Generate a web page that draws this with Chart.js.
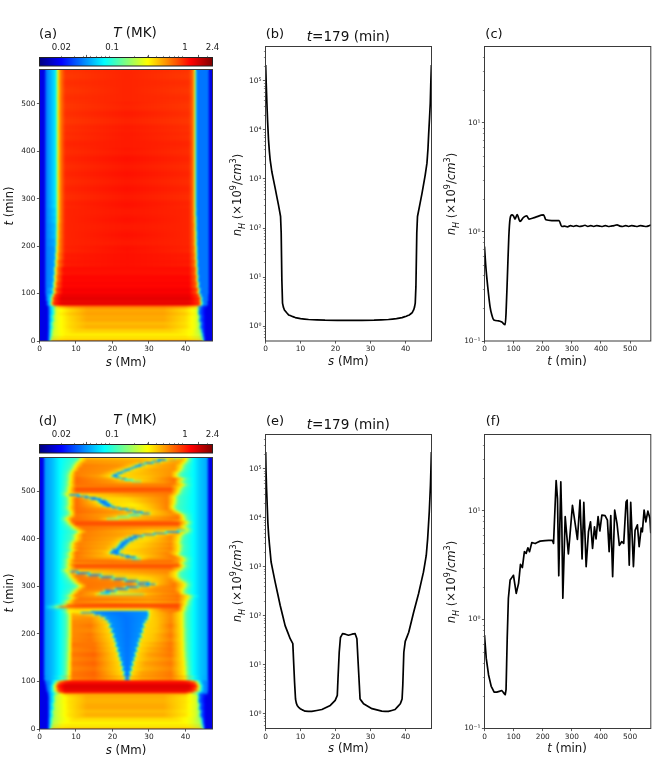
<!DOCTYPE html>
<html><head><meta charset="utf-8">
<style>
html,body{margin:0;padding:0;background:#fff;width:664px;height:775px;overflow:hidden}
body{filter:blur(.3px)}
canvas{position:absolute;display:block}
.t{position:absolute;font-family:"DejaVu Sans",sans-serif;color:#111;white-space:nowrap;line-height:1;transform:translate(-50%,-50%)}
.t i{font-style:italic}
.t sub,.t sup{font-size:.7em;line-height:0}
</style>
<script src="https://cdn.jsdelivr.net/npm/chart.js@4"></script>
</head><body>
<script>
// ---------- axis ticks ----------
const sTicksHeat=[0,10,20,30,40];
const tTicksHeat=[0,100,200,300,400,500];
const sTicksLine=[0,10,20,30,40];
const tTicksLine=[0,100,200,300,400,500];
const densTicksS=[1,10,100,1000,10000,100000];
const densTicksT=[0.1,1,10];
const colorTicks=[0.02,0.1,1,2.4];
const supers={'-1':'10⁻¹','0':'10⁰','1':'10¹','2':'10²','3':'10³','4':'10⁴','5':'10⁵'};

// ---------- panel (b) ----------
const sB=[0.05,0.2,0.4,0.6,0.86,1.1,1.33,1.8,2.76,3.7,4.3,4.48,4.67,4.86,5.1,5.4,6,6.6,7.5,8.5,10,12.3,17,24,31,35.1,37.4,39,40.2,41.1,41.9,42.3,42.55,42.76,42.95,43.2,43.4,44.7,45.6,46.1,46.4,46.6,46.85,47.05,47.2,47.37];
const nB=[210000,90000,35000,15000,6300,3700,2450,1420,650,296,172,79,8.8,2.95,2.45,2.15,1.9,1.7,1.6,1.5,1.43,1.37,1.33,1.31,1.33,1.37,1.43,1.5,1.6,1.7,1.9,2.15,2.45,2.95,6.4,79,172,513,1200,2100,4200,8500,18000,35000,90000,210000];
// ---------- panel (c) ----------
const tC=[0,4.6,11,19,25,32,48,59.5,71,74,79,83.5,88,94,99.5,105,112,122,134,145,153,174,202.5,211,231,256,265,275,285,295,305,315,325,335,345,355,365,375,385,395,405,415,425,435,445,455,465,475,485,495,505,515,525,535,545,555,565,571];
const nC=[0.734,0.48,0.316,0.207,0.174,0.156,0.153,0.149,0.141,0.18,0.418,0.906,1.33,1.43,1.40,1.31,1.44,1.25,1.36,1.40,1.31,1.36,1.43,1.29,1.27,1.27,1.12,1.13,1.11,1.14,1.12,1.14,1.12,1.13,1.15,1.12,1.14,1.12,1.14,1.13,1.12,1.14,1.12,1.13,1.14,1.16,1.13,1.12,1.14,1.12,1.14,1.13,1.12,1.14,1.13,1.12,1.14,1.16];
// ---------- panel (e) ----------
const sE=[0.05,0.15,0.3,0.5,0.67,0.9,1.14,1.6,2.76,4.2,5.6,7.05,7.8,8,8.3,8.57,8.8,9.05,9.4,9.9,10.5,11.3,13.2,16.1,18.5,19.9,20.5,20.7,21.05,21.4,22,22.8,23.7,24.7,25.6,26.1,26.4,26.8,27,28,30.4,33.2,35.1,37,38.5,39,39.2,39.5,39.9,40.9,42.3,43.7,45.1,45.9,46.3,46.76,47.1,47.24,47.37];
const nE=[220000,90000,40000,17000,8000,4400,2800,1250,486,162,63,34,27,13,4.4,2,1.65,1.48,1.37,1.27,1.2,1.13,1.115,1.22,1.48,1.87,2.37,5.2,18,36,43,42,40,42,43,34,13,3.8,2,1.6,1.27,1.13,1.115,1.22,1.6,2,3.8,18,30,46,118,282,776,1700,3700,13000,46000,100000,220000];
// ---------- panel (f) ----------
const tF=[0,6,14,23,33,42,59.5,71,74,78,82,88,99.5,109,117,123.5,130,137,143,149,154.5,162.5,174,191,208,233,237,246,250.6,255,262,265.4,269,277,288,302,313.5,319,328,335,341,349,357,364,371,377.6,383,390,396,403,414,422,428,433.6,440,447,455,463,471.4,478,486,489.7,497,502,511.4,517,525,531,538,542,548,554,561,568,571];
const nF=[0.72,0.44,0.31,0.244,0.216,0.216,0.223,0.204,0.227,0.675,1.57,2.31,2.55,1.74,2.15,3.21,3.0,4.2,4.05,4.56,4.2,5.1,4.99,5.25,5.3,5.35,5.0,18.9,12.9,2.53,18.4,7.9,1.57,8.8,4.0,11.2,6.9,5.45,12.5,3.6,11.9,3.06,6.4,7.9,4.5,7.1,5.5,8.8,6.5,9.1,9,8.2,4.2,9,2.48,10.1,7.6,4.8,5.2,5,12,12.5,3.16,11.9,3.06,6.6,7.4,4.66,6.9,6.4,10.1,7.9,9.9,8.5,6.2];

// ---------- panel (a) heat map: [t start, "s:jet% ..."] ----------
const heatA=[
[0,'0:10 2:10 2.5:24 2.9:50 3.4:74 8:78 40:78 44.4:74 44.9:50 45.2:24 45.5:10 47.4:10'],
[2.5,'0:10 2.2:10 2.6:24 3:45 3.6:58 6:63 41:63 44:58 44.7:45 45:24 45.5:10 47.4:10'],
[8,'0:10 2.2:10 2.6:24 3.1:42 3.8:58 7:64 40:64 43.8:58 44.5:45 44.8:24 45.5:10 47.4:10'],
[14,'0:10 2.2:10 2.6:24 3.1:42 3.8:58 5.5:62 9:65 38:65 42:62 44:54 44.5:40 44.7:24 45.5:10 47.4:10'],
[20,'0:10 2.3:10 2.6:24 3.2:42 3.9:58 5.5:62 10:67 36:67 42:62 44:54 44.3:40 44.5:24 45.5:10 47.4:10'],
[26,'0:10 2.3:10 2.6:24 3.3:40 3.9:56 5:61 8:66 13:70 34:70 40:66 43:60 43.9:50 44.2:24 45.6:10 47.4:10'],
[40,'0:10 2.3:10 2.6:24 3.6:40 4.1:56 5:61 8:66 13:71 34:71 40:66 43:60 43.7:50 44:24 45.6:10 47.4:10'],
[55,'0:10 2.3:10 2.6:24 3.8:40 4.3:56 5:61 8:66 13:71 34:71 40:66 43:60 43.4:50 43.7:24 45.6:10 47.4:10'],
[70,'0:10 2.3:10 2.6:24 3.9:40 4.4:56 5.2:66 8:72 13:74 34:74 40:72 43:64 43.4:50 43.7:24 45.6:10 47.4:10'],
[73,'0:10 2:10 2.3:24 3:36 3.5:60 4.2:80 7:84 40:84 43.5:80 44:60 44.4:36 44.8:24 45.8:24 46:10 47.4:10'],
[75,'0:10 1.8:10 2.2:24 2.9:36 3.2:60 3.7:82 6:90 41:90 43.9:82 44.3:60 44.7:36 45.1:24 46:24 46.2:10 47.4:10'],
[85,'0:10 1.6:10 1.9:24 3:36 3.4:60 3.9:82 6:90 41:90 43.9:82 44.2:60 44.5:36 44.9:24 46.2:24 46.4:10 47.4:10'],
[92,'0:10 1.6:10 1.8:24 3.2:36 3.7:60 4.2:82 6:89 41:89 43.5:82 43.9:60 44.2:36 44.5:24 46.2:24 46.4:10 47.4:10'],
[100,'0:10 1.5:10 1.7:24 3.5:30 4:60 4.7:80 6.5:88 41:88 43.1:80 43.6:60 44:30 44.2:24 46.3:24 46.5:10 47.4:10'],
[112,'0:10 1.5:10 1.7:24 3.6:28 4.1:60 4.8:78 6.5:87 41:87 42.9:78 43.4:60 43.8:28 44:24 46.3:24 46.5:10 47.4:10'],
[125,'0:10 1.5:10 1.7:24 3.8:28 4.2:60 4.9:76 6.5:87 41:87 42.8:78 43.2:60 43.6:28 43.8:24 46.3:24 46.5:10 47.4:10'],
[140,'0:10 1.5:10 1.7:24 3.9:28 4.3:60 5:76 6.5:86 41:86 42.7:78 43.1:60 43.5:28 43.7:24 46.3:24 46.5:10 47.4:10'],
[155,'0:10 1.5:10 1.7:24 4.1:28 4.5:60 5.2:76 7:85 24:86 41:85 42.6:76 43:60 43.4:28 43.6:24 46.3:24 46.5:10 47.4:10'],
[170,'0:10 1.5:10 1.7:24 4.2:28 4.6:60 5.3:74 7:85 24:86 41:85 42.5:76 42.9:60 43.3:28 43.5:24 46.3:24 46.5:10 47.4:10'],
[185,'0:10 1.5:10 1.7:24 4.3:28 4.7:60 5.4:74 7:84 24:86 41:84 42.4:76 42.9:60 43.3:28 43.5:24 46.3:24 46.5:10 47.4:10'],
[200,'0:10 1.5:10 1.7:24 4.4:30 4.8:60 5.4:74 7:84 24:85 41:84 42.3:76 42.8:60 43.2:28 43.4:24 46.3:24 46.5:10 47.4:10'],
[216,'0:10 1.5:10 1.7:24 4.4:32 4.9:62 5.5:74 7:84 24:86 41:84 42.3:76 42.8:60 43.2:28 43.4:24 46.3:24 46.5:10 47.4:10'],
[232,'0:10 1.5:10 1.7:24 4.5:32 4.9:62 5.5:74 7:84 24:85 41:84 42.3:76 42.7:60 43.1:28 43.3:24 46.3:24 46.5:10 47.4:10'],
[248,'0:10 1.5:10 1.7:24 4.5:34 5:62 5.6:74 7:84 24:86 41:84 42.2:76 42.7:60 43.1:28 43.3:24 46.3:24 46.5:10 47.4:10'],
[264,'0:10 1.5:10 1.7:24 4.5:34 5:62 5.6:74 7:84 24:85 41:84 42.2:76 42.6:58 43:28 43.2:24 46.3:24 46.5:10 47.4:10'],
[280,'0:10 1.5:10 1.7:24 4.5:36 5:62 5.6:74 7:84 24:86 41:84 42.2:76 42.6:58 43:28 43.2:24 46.3:24 46.5:10 47.4:10'],
[296,'0:10 1.5:10 1.7:24 4.5:36 5:60 5.6:74 7:83 24:85 41:83 42.2:76 42.6:58 43:28 43.2:24 46.3:24 46.5:10 47.4:10'],
[312,'0:10 1.5:10 1.7:24 4.5:36 5:62 5.6:74 7:84 24:86 41:84 42.2:76 42.6:58 43:28 43.2:24 46.3:24 46.5:10 47.4:10'],
[328,'0:10 1.5:10 1.7:24 4.5:36 5:60 5.6:74 7:83 24:85 41:83 42.2:76 42.6:58 43:28 43.2:24 46.3:24 46.5:10 47.4:10'],
[344,'0:10 1.5:10 1.7:24 4.5:36 5:62 5.6:74 7:84 24:86 41:84 42.2:76 42.6:58 43:28 43.2:24 46.3:24 46.5:10 47.4:10'],
[360,'0:10 1.5:10 1.7:24 4.5:36 5:60 5.6:74 7:83 24:85 41:83 42.2:76 42.6:58 43:28 43.2:24 46.3:24 46.5:10 47.4:10'],
[376,'0:10 1.5:10 1.7:24 4.5:36 5:62 5.6:74 7:84 24:86 41:84 42.2:76 42.6:58 43:28 43.2:24 46.3:24 46.5:10 47.4:10'],
[392,'0:10 1.5:10 1.7:24 4.5:36 5:60 5.6:74 7:83 24:85 41:83 42.2:76 42.6:58 43:28 43.2:24 46.3:24 46.5:10 47.4:10'],
[408,'0:10 1.5:10 1.7:24 4.5:36 5:62 5.6:74 7:84 24:85 41:84 42.2:76 42.6:58 43:28 43.2:24 46.3:24 46.5:10 47.4:10'],
[424,'0:10 1.5:10 1.7:24 4.5:36 5:60 5.6:74 7:83 24:85 41:83 42.2:76 42.6:58 43:28 43.2:24 46.3:24 46.5:10 47.4:10'],
[440,'0:10 1.5:10 1.7:24 4.5:36 5:62 5.6:74 7:83 24:85 41:83 42.2:76 42.6:58 43:28 43.2:24 46.3:24 46.5:10 47.4:10'],
[456,'0:10 1.5:10 1.7:24 4.5:36 5:60 5.6:74 7:82 24:84 41:82 42.2:76 42.6:58 43:28 43.2:24 46.3:24 46.5:10 47.4:10'],
[472,'0:10 1.5:10 1.7:24 4.5:36 5:62 5.6:74 7:83 24:85 41:83 42.2:76 42.6:58 43:28 43.2:24 46.3:24 46.5:10 47.4:10'],
[488,'0:10 1.5:10 1.7:24 4.5:36 5:60 5.6:74 7:82 24:84 41:82 42.2:76 42.6:58 43:28 43.2:24 46.3:24 46.5:10 47.4:10'],
[504,'0:10 1.5:10 1.7:24 4.5:36 5:62 5.6:74 7:83 24:84 41:83 42.2:76 42.6:58 43:28 43.2:24 46.3:24 46.5:10 47.4:10'],
[520,'0:10 1.5:10 1.7:24 4.5:36 5:60 5.6:74 7:82 24:84 41:82 42.2:76 42.6:58 43:28 43.2:24 46.3:24 46.5:10 47.4:10'],
[536,'0:10 1.5:10 1.7:24 4.5:36 5:62 5.6:74 7:83 24:84 41:83 42.2:76 42.6:58 43:28 43.2:24 46.3:24 46.5:10 47.4:10'],
[552,'0:10 1.5:10 1.7:24 4.5:36 5:60 5.6:74 7:82 24:84 41:82 42.2:76 42.6:58 43:28 43.2:24 46.3:24 46.5:10 47.4:10']
];

// ---------- panel (d) heat map, lower part: [t start, "s:jet% ..."] ----------
const heatDLow=[
[0,'0:10 2:10 2.5:24 2.9:50 3.4:72 8:76 40:76 44.4:72 44.9:50 45.2:24 45.5:10 47.4:10'],
[2.5,'0:10 2.2:10 2.6:24 3:42 3.6:56 6:62 41:62 44:56 44.7:42 45:24 45.5:10 47.4:10'],
[8,'0:10 2.2:10 2.6:24 3.1:40 3.8:56 7:63 40:63 43.8:56 44.5:42 44.8:24 45.5:10 47.4:10'],
[14,'0:10 2.2:10 2.6:24 3.1:40 3.8:54 5.5:59 9:65 38:65 42:60 44:52 44.5:40 44.7:24 45.5:10 47.4:10'],
[20,'0:10 2.3:10 2.6:24 3.2:40 3.9:54 5.5:59 10:67 36:67 42:60 44:52 44.3:40 44.5:24 45.5:10 47.4:10'],
[26,'0:10 2.3:10 2.6:24 3.3:38 3.9:54 5:58 8:65 13:70 34:70 40:65 43:58 43.9:48 44.2:24 45.6:10 47.4:10'],
[40,'0:10 2.3:10 2.6:24 3.6:38 4.1:54 5:58 8:65 13:71 34:71 40:65 43:58 43.7:48 44:24 45.6:10 47.4:10'],
[55,'0:10 2.3:10 2.6:24 3.8:38 4.3:54 5:58 8:65 13:70 34:70 40:65 43:58 43.4:48 43.7:24 45.6:10 47.4:10'],
[70,'0:10 2.2:10 2.5:24 3.8:38 4.3:54 5.2:60 8:66 13:70 34:70 40:66 43:60 43.4:48 43.7:24 45.6:10 47.4:10'],
[73,'0:10 2.2:10 2.5:24 3.2:30 4:36 5:48 5.8:62 7:76 40:76 41.3:62 42.3:48 43.5:36 44:24 46:24 46.2:10 47.4:10'],
[76,'0:10 2:10 2.3:22 3:30 3.5:38 4.2:50 4.8:64 5.6:80 7:86 40:86 41.8:80 42.6:64 43.3:50 44:38 44.5:28 46:24 46.2:10 47.4:10'],
[80,'0:10 1.8:10 2:22 3:30 3.4:38 3.9:50 4.4:64 5.2:82 7:90 41:90 42.7:82 43.5:64 44:50 44.5:38 45:28 46.2:24 46.4:10 47.4:10'],
[86,'0:10 1.6:10 1.9:22 3:30 3.4:38 3.8:50 4.3:64 5:84 7:91 41:91 42.9:84 43.7:64 44.1:50 44.5:38 45:28 46.2:24 46.4:10 47.4:10'],
[92,'0:10 1.5:10 1.7:22 3:28 3.7:36 4:48 4.5:64 5.2:82 7:89 41:89 42.7:82 43.4:64 43.8:48 44.3:36 44.8:28 46.2:24 46.4:10 47.4:10'],
[97,'0:10 1.4:10 1.6:22 3:28 4:36 4.6:48 5:64 5.8:80 8:86 40:86 42.3:80 43:64 43.5:48 44:36 44.6:28 46.2:24 46.4:10 47.4:10'],
[101,'0:10 1.3:10 1.5:24 3:30 4:37 5.2:46 6:62 7:76 9:81 39:81 41:76 42:62 42.7:46 43.6:37 44.4:30 46.2:26 46.4:10 47.4:10']
];

// ---------- panel (d) heat map, upper part: [t start, left edge s, right edge s, interior stops; *centre/halfwidth/level = cold streak] ----------
const heatDUp=[
[104,8,40,'9:74 15:76 *24/.3 28:70 36:74'],
[112,8,39.9,'9:76 15:78 *24/.6 28:72 36:76'],
[122,8.1,39.8,'9:74 15:76 *24/1 29:70 36:74'],
[132,8.1,39.7,'9:76 15:78 *24/1.3 29:72 36:76'],
[142,8.2,39.6,'9:74 15:76 *24/1.7 30:70 36:74'],
[152,8.2,39.5,'9:76 15:78 *24/2 30:72 36:76'],
[162,8.3,39.4,'9:74 15:76 *24/2.4 30:70 36:76'],
[172,8.3,39.4,'9:76 15:76 *24/2.8 31:70 36:76'],
[182,8.3,39.3,'9:74 14:76 *24/3.1 31:68 36:74'],
[192,8.4,39.3,'9:74 14:76 *24.05/3.55 31:68 36:76'],
[202,8.4,39.3,'9:74 14:74 *24/4 32:68 36:74'],
[212,8.4,39.2,'9:74 14:76 *23.9/4.4 32:68 36:76'],
[222,8.4,39.2,'9:74 14:74 *23.9/4.9 32:68 36:74'],
[230,8.4,39.2,'9:72 14:74 *23.8/5.6 32:68 36:74'],
[236,8.4,39.2,'9:72 12:72 *23.3/6.3 33:70 36:74'],
[240,8.3,39.2,'9:70 11:68 *22.5/7.2 33:70 36:74'],
[243,8,39.2,'9:66 *20.5/8.9 33:70 36:76'],
[246,7.7,39.3,'9:62 *22/7.6 33:72 37:76'],
[248,8.2,39.5,'10:66 20:60 29:58 31:66 34:74 38:76'],
[251,7.8,39.6,'10:66 20:66 30:66 34:74 38:76'],
[254,4.7,39.6,'6:78 10:81 38:81'],
[258,6.8,40,'8:78 12:80 38:80'],
[262,8,40.2,'10:74 20:78 30:76 38:78'],
[266,7.4,40,'9.5:76 20:68 30:68 38:72'],
[270,8.3,40.4,'10:76 20:78 30:76 38:78'],
[274,9,40.8,'11:76 22:72 30:70 38:74'],
[278,8.2,41,'10:74 18:72 28:74 38:78'],
[281,8.7,40,'10:76 15:70 16:52 28:50 29.5:66 34:72 38:74'],
[284,9.2,39.2,'11:76 15:70 *18/1/30 21:64 30:72 38:76'],
[288,9.6,39,'11:74 17:74 *19.5/1.3 23:68 30:72 37:76'],
[292,10.2,39.4,'12:76 19:74 *22.5/1.4 26:68 32:74 37:74'],
[296,11,39.7,'13:76 22:74 *25.4/1.4 29:68 34:74 37:76'],
[300,11,39.9,'13:76 25:74 *28.5/1.3 31:68 33:72 37:76'],
[303,10.6,40,'13:76 27:74 *30.5/1 33:70 37:76'],
[306,10,39.7,'12:76 25:74 *28.5/1.4 33:70 37:76'],
[310,9.5,39,'11:76 22:74 *25.2/1.5 32:68 36:74'],
[314,9,38.2,'11:76 19:74 *22/1.5 30:66 36:74'],
[318,8.5,37.6,'10:76 16:74 *18.5/1.5 28:66 35:72'],
[322,8.3,37.5,'10:76 12:74 *15.2/1.5 26:68 35:72'],
[326,7.9,37.6,'9:74 *12/1.5 24:70 35:74'],
[330,7.3,37.8,'*9/1.4 20:72 35:74'],
[333,7.2,38.5,'9:68 20:70 36:74'],
[336,8,39,'10:78 36:78'],
[340,8,39.5,'10:80 30:80 38:80'],
[344,7.6,39.2,'9:78 20:78 38:78'],
[348,8.2,38.8,'10:72 20:74 38:74'],
[352,7.8,39.6,'9.5:78 36:78'],
[356,8,39.6,'10:74 20:72 *26.5/.8/44 30:72 38:74'],
[360,8.6,39,'10:76 20:68 *25/1.2 28:66 37:76'],
[363,8.4,38.2,'10:76 20:66 *23.5/1 27:66 36:76'],
[366,8.2,37.8,'10:74 18:70 *21.8/.9 26:66 36:74'],
[369,8.4,38,'10:78 17:72 *20.5/1 25:66 35:76'],
[372,8.8,38.2,'10:74 17:68 *20.7/.9 24:66 36:72'],
[375,9.2,38.4,'11:76 18:70 *21/.8 25:68 36:74'],
[379,8.6,38.2,'10:76 18:72 *22/.7 26:66 36:76'],
[383,9,38.6,'11:74 18:70 *22.5/.7 27:66 36:72'],
[387,8.8,38.2,'10:76 19:72 *23/.8 28:68 36:76'],
[391,9.2,38,'11:74 19:70 *23.5/.9 28:66 36:72'],
[395,9.8,38.4,'12:76 20:72 *24.5/1 29:66 36:74'],
[399,10,38.3,'12:74 21:70 *25.6/1 30:66 36:74'],
[403,9.8,38.6,'12:76 23:72 *27/1.2 31:66 36:74'],
[407,10,39,'12:74 26:70 *30/1.4 34:66 37:72'],
[410,10.4,39.4,'12:76 29:70 *33/1.5 36:66 38:72'],
[413,10.8,40,'13:74 32:68 *36.5/1.6 39:66'],
[416,10.6,40.6,'13:76 30:66 *39/1/36'],
[419,9.7,40.2,'12:76 30:72 38:72'],
[422,9.2,39.8,'11:76 38:72'],
[426,8.8,39.4,'10:78 38:78'],
[430,8.4,40.3,'10:80 38:80'],
[434,8,40.5,'9:80 38:80'],
[437,7.6,39.6,'9:76 20:72 36:72'],
[440,7.3,39.6,'9:78 16:74 *20/1/50 30:72 38:78'],
[444,7.8,39.4,'10:76 19:72 *23/1.2/44 28:70 38:76'],
[448,8.6,39.2,'10:76 22:70 *26/1.2/36 31:68 38:74'],
[452,8.8,38.6,'10:76 25:70 *29/1 32:68 37:74'],
[455,8.6,38,'10:78 23:72 *27/1 31:68 36:74'],
[458,8.4,37.2,'10:76 21:72 *25/1 30:66 36:74'],
[461,8.2,36.8,'10:78 19:72 *23/1 29:66 35:76'],
[464,8,36.6,'10:76 17:70 *21/.9 28:66 35:74'],
[467,8.1,36.5,'10:78 15:72 *19.4/.9 27:64 35:76'],
[470,8.3,36.8,'10:76 14:72 *18.5/.9 26:64 35:74'],
[473,8.4,37,'10:78 13:72 *18/1 25:64 35:76'],
[476,8.3,37,'10:76 13:72 *17.5/1 25:66 35:74'],
[479,8.2,37,'10:78 12:74 *17/1 24:66 35:76'],
[482,8.4,37.2,'10:76 12:74 *15.5/1.2 24:66 35:74'],
[485,8.2,37,'10:78 *14/1.4 24:68 35:76'],
[488,8,37,'*11.8/1.3 24:70 35:74'],
[491,7.7,37.5,'*9.5/1.2 24:72 35:76'],
[494,7.2,38,'9:66 24:72 36:76'],
[497,8,38,'10:78 36:76'],
[500,8,38.3,'10:80 36:80'],
[504,8.2,38.6,'10:80 36:80'],
[508,8,39,'10:72 36:72'],
[512,8.5,39.6,'10:78 36:78'],
[516,8.2,39,'10:76 22:70 34:72 37:76'],
[519,8.3,38.2,'10:78 20:74 *26.6/.8/46 33:72 37:76'],
[522,8.5,39,'10:76 19:72 *24.5/.8/36 31:70 37:76'],
[525,8.4,39.4,'10:78 18:72 *23/.6 30:70 37:78'],
[528,8.5,38.4,'10:76 17:72 *21.5/.5 29:68 36:74'],
[531,8.4,37.6,'10:76 16:72 *20.5/.5 29:68 36:74'],
[534,8.5,37.4,'10:74 16:72 *21/.5 29:70 36:72'],
[537,8.7,37.8,'10:76 17:74 *22/.5 30:70 36:74'],
[540,8.8,38.3,'10:74 18:72 *23/.5 31:70 36:72'],
[543,9.2,38.6,'11:76 19:74 *24/.5 31:72 37:74'],
[546,9.4,38.8,'11:74 20:72 *25/.5 32:70 37:72'],
[549,9.6,39,'11:76 21:74 *26/.5 33:72 37:74'],
[552,9.7,38.9,'12:74 22:72 *27/.6 33:70 37:72'],
[555,10,39.2,'12:76 23:74 *28/.7 34:72 37:74'],
[558,10.3,39.6,'12:72 25:70 *30/.9 35:70 38:72'],
[561,10.8,40,'13:74 27:72 *32/.9 36:70 38:72'],
[564,11.2,40.2,'13:72 28:70 *33.5/.9 37:70 39:72'],
[567,11.5,40.3,'13:70 30:68 *36/1.1 38:68'],
[570,11.6,40.3,'13:68 30:66 *38/.6/56']
];
const dOuterLeft='0:10 1.1:10 1.4:27 3.5:31 5.5:37';
const dOuterRight='42.3:37 44:32 46:29 46.3:10 47.4:10';

// ---------- colour map ----------
function clip(v){return Math.max(0,Math.min(1,v));}
function jet(p){return [clip(1.5-Math.abs(4*p-3))*255,clip(1.5-Math.abs(4*p-2))*255,clip(1.5-Math.abs(4*p-1))*255];}

// ---------- parse stops ----------
function parseStops(str){
  const out=[];
  str.trim().split(/\s+/).forEach(tok=>{
    if(tok[0]==='*'){
      const a=tok.slice(1).split('/').map(Number);const c=a[0],w=a[1],l=a.length>2?a[2]:24;
      out.push([c-w-.7,66],[c-w-.3,46],[c-w,l+3],[c,l],[c+w,l+3],[c+w+.3,46],[c+w+.7,66]);
    }else{const a=tok.split(':').map(Number);out.push(a);}
  });
  return out;
}
function upperRowStops(row){
  const xL=row[1],xR=row[2];
  const inner=parseStops(row[3]).filter(p=>p[0]>xL+.4&&p[0]<xR-.4);
  const left=parseStops(dOuterLeft).filter(p=>p[0]<xL-1.3);
  const right=parseStops(dOuterRight).filter(p=>p[0]>xR+1.3);
  return left.concat([[xL-1.2,44],[xL-.3,54],[xL+.2,64]],inner,[[xR-.2,64],[xR+.3,54],[xR+1.2,44]],right);
}
function buildRows(lowRows,upRows){
  const rows=lowRows.map(r=>({t:r[0],stops:parseStops(r[1])}));
  (upRows||[]).forEach(r=>rows.push({t:r[0],stops:upperRowStops(r)}));
  rows.forEach(r=>r.stops.sort((a,b)=>a[0]-b[0]));
  return rows;
}
const SMAX=47.4,TMAX_A=572.5,TMAX_D=571;
function heatRaster(rows){
  const N=346,c=document.createElement('canvas');c.width=N;c.height=rows.length;
  const g=c.getContext('2d'),im=g.createImageData(N,rows.length);
  rows.forEach((r,j)=>{
    const st=r.stops;let k=0;
    for(let i=0;i<N;i++){
      const s=SMAX*(i+.5)/N;
      while(k<st.length-2&&st[k+1][0]<s)k++;
      const a=st[k],b=st[k+1]||a;
      const f=b[0]>a[0]?clip((s-a[0])/(b[0]-a[0])):0;
      const col=jet((a[1]+(b[1]-a[1])*f)/100),o=(j*N+i)*4;
      im.data[o]=col[0];im.data[o+1]=col[1];im.data[o+2]=col[2];im.data[o+3]=255;
    }
  });
  g.putImageData(im,0,0);return c;
}

// ---------- plugins ----------
const heatPlugin={id:'heat',beforeDatasetsDraw(chart,args,opts){
  if(!opts.rows)return;
  const rows=opts.rows,img=heatRaster(rows);
  const x=chart.scales.x,y=chart.scales.y,ctx=chart.ctx,a=chart.chartArea;
  const x0=x.getPixelForValue(0),x1=x.getPixelForValue(x.max);
  const off=document.createElement('canvas');off.width=chart.width;off.height=chart.height;
  const g=off.getContext('2d');g.imageSmoothingEnabled=true;
  rows.forEach((r,j)=>{
    const tEnd=j+1<rows.length?rows[j+1].t:y.max;
    const yb=Math.round(y.getPixelForValue(r.t)),yt=Math.round(y.getPixelForValue(tEnd));
    g.drawImage(img,0,j,img.width,1,x0,yt,x1-x0,Math.max(1,yb-yt));
  });
  ctx.save();
  ctx.beginPath();ctx.rect(a.left,a.top,a.right-a.left,a.bottom-a.top);ctx.clip();
  ctx.drawImage(off,0,0);
  ctx.filter='blur(0.8px)';
  ctx.drawImage(off,0,0);
  ctx.restore();
}};
const colorbarPlugin={id:'cbar',beforeDatasetsDraw(chart,args,opts){
  if(!opts.on)return;
  const x=chart.scales.x,a=chart.chartArea,ctx=chart.ctx,lo=Math.log(x.min),hi=Math.log(x.max);
  for(let px=a.left;px<a.right;px+=1){
    const v=x.getValueForPixel(px+.5),c=jet((Math.log(v)-lo)/(hi-lo));
    ctx.fillStyle='rgb('+c.map(Math.round).join(',')+')';
    ctx.fillRect(px,a.top,1.5,a.bottom-a.top);
  }
}};
const framePlugin={id:'frame',afterDatasetsDraw(chart,args,opts){
  const a=chart.chartArea,ctx=chart.ctx;
  ctx.save();ctx.strokeStyle=opts.color||'#3a3a3a';ctx.lineWidth=1;
  ctx.strokeRect(a.left,a.top,a.right-a.left,a.bottom-a.top);
  ctx.strokeStyle='#444';ctx.lineWidth=.6;ctx.beginPath();
  if(opts.minorY){
    const s=chart.scales.y;
    opts.minorY.forEach(v=>{if(v>s.min&&v<s.max){const p=Math.round(s.getPixelForValue(v))+.5;ctx.moveTo(a.left,p);ctx.lineTo(a.left-1.6,p);}});
  }
  if(opts.minorX){
    const s=chart.scales.x;
    opts.minorX.forEach(v=>{if(v>s.min&&v<s.max){const p=Math.round(s.getPixelForValue(v))+.5;ctx.moveTo(p,a.top);ctx.lineTo(p,a.top-1.6);}});
  }
  ctx.stroke();ctx.restore();
}};
Chart.register(heatPlugin,colorbarPlugin,framePlugin);

function decadeMinors(lo,hi){const r=[];for(let e=lo;e<=hi;e++)for(let m=2;m<=9;m++)r.push(m*Math.pow(10,e));return r;}

const FONT='"DejaVu Sans",sans-serif';
function tickOpts(size){return {color:'#222',font:{family:FONT,size:size},padding:1.5,maxRotation:0,minRotation:0,autoSkip:false};}
const gridOpts={display:true,drawOnChartArea:false,drawTicks:true,tickLength:2.6,tickWidth:.8,tickColor:'#333'};

function addCanvas(left,top,w,h){
  const c=document.createElement('canvas');
  c.width=w;c.height=h;c.style.left=left+'px';c.style.top=top+'px';c.style.width=w+'px';c.style.height=h+'px';
  document.body.appendChild(c);return c;
}
function panel(box,cfg){
  const cl=Math.floor(box.left)-32,ct=Math.floor(box.top)-8;
  const L=box.left-cl,T=box.top-ct;
  const W=Math.ceil(box.left+box.w)+8-cl,H=Math.ceil(box.top+box.h)+15-ct;
  const R=W-L-box.w,B=H-T-box.h;
  const canvas=addCanvas(cl,ct,W,H);
  const xScale={type:'linear',min:0,max:cfg.xMax,grid:gridOpts,border:{display:false},
    ticks:tickOpts(7.4),
    afterBuildTicks(s){s.ticks=cfg.xTicks.map(v=>({value:v}));},
    afterFit(s){s.height=B;}};
  const yScale={type:cfg.yLog?'logarithmic':'linear',min:cfg.yMin,max:cfg.yMax,grid:gridOpts,border:{display:false},
    ticks:Object.assign(tickOpts(7.4),cfg.yLog?{callback:v=>supers[String(Math.round(Math.log10(v)))]}:{}),
    afterBuildTicks(s){s.ticks=cfg.yTicks.map(v=>({value:v}));},
    afterFit(s){s.width=L;}};
  return new Chart(canvas,{type:'line',
    data:{datasets:cfg.x?[{data:cfg.x.map((v,i)=>({x:v,y:cfg.y[i]})),borderColor:'#000',borderWidth:1.7,pointRadius:0,
      cubicInterpolationMode:cfg.smooth?'monotone':'default',tension:0.001,borderJoinStyle:'round',fill:false}]:[]},
    options:{responsive:false,animation:false,devicePixelRatio:1,layout:{padding:{top:T,right:R,left:0,bottom:0}},
      scales:{x:xScale,y:yScale},
      plugins:{legend:{display:false},title:{display:false},tooltip:{enabled:false},
        heat:{rows:cfg.rows||null},cbar:{on:false},frame:{minorY:cfg.minorY||null}}}});
}
function colorbar(box){
  const cl=Math.floor(box.left)-14,ct=Math.floor(box.top)-15;
  const L=box.left-cl,T0=box.top-ct;
  const W=Math.ceil(box.left+box.w)+14-cl,H=Math.ceil(box.top+box.h)+2-ct;
  const canvas=addCanvas(cl,ct,W,H);
  return new Chart(canvas,{type:'bar',data:{labels:[],datasets:[]},
    options:{responsive:false,animation:false,devicePixelRatio:1,
      layout:{padding:{left:L,right:W-L-box.w,top:0,bottom:H-T0-box.h}},
      scales:{
        x:{type:'logarithmic',position:'top',min:0.01,max:2.4,grid:gridOpts,border:{display:false},
          ticks:Object.assign(tickOpts(8.6),{callback:v=>String(v)}),
          afterBuildTicks(s){s.ticks=colorTicks.map(v=>({value:v}));},
          afterFit(s){s.height=T0;}},
        y:{display:false,min:0,max:1}
      },
      plugins:{legend:{display:false},tooltip:{enabled:false},cbar:{on:true},
        frame:{color:'#222',minorX:decadeMinors(-2,0)}}}});
}
function label(html,x,y,size,rot){
  const d=document.createElement('div');d.className='t';d.innerHTML=html;
  d.style.left=x+'px';d.style.top=y+'px';d.style.fontSize=size+'px';
  if(rot)d.style.transform='translate(-50%,-50%) rotate(-90deg)';
  document.body.appendChild(d);
}

// ---------- build figure ----------
colorbar({left:39.5,top:57.5,w:173,h:8.5});
colorbar({left:39.5,top:444.5,w:173,h:8.5});
panel({left:39.5,top:69.5,w:173,h:271.5},{xMax:SMAX,yMin:0,yMax:TMAX_A,xTicks:sTicksHeat,yTicks:tTicksHeat,rows:buildRows(heatA)});
panel({left:39.5,top:457.5,w:173,h:271.5},{xMax:SMAX,yMin:0,yMax:TMAX_D,xTicks:sTicksHeat,yTicks:tTicksHeat,rows:buildRows(heatDLow,heatDUp)});
panel({left:265.5,top:46.5,w:166,h:294.5},{xMax:SMAX,yMin:0.5,yMax:500000,yLog:true,xTicks:sTicksLine,yTicks:densTicksS,x:sB,y:nB,minorY:decadeMinors(-1,5)});
panel({left:484.5,top:46.5,w:166.3,h:294.5},{xMax:571,yMin:0.1,yMax:50,yLog:true,smooth:true,xTicks:tTicksLine,yTicks:densTicksT,x:tC,y:nC,minorY:decadeMinors(-1,1)});
panel({left:265.5,top:434.5,w:166,h:294},{xMax:SMAX,yMin:0.5,yMax:500000,yLog:true,xTicks:sTicksLine,yTicks:densTicksS,x:sE,y:nE,minorY:decadeMinors(-1,5)});
panel({left:484.5,top:434.5,w:166.3,h:294},{xMax:571,yMin:0.1,yMax:50,yLog:true,xTicks:tTicksLine,yTicks:densTicksT,x:tF,y:nF,minorY:decadeMinors(-1,1)});

const nLabel='<i>n<sub>H</sub></i> (×10<sup>9</sup>/<i>cm</i><sup>3</sup>)';
label('(a)',48,33,13);label('(b)',275,33,13);label('(c)',494,33,13);
label('(d)',48,420,13);label('(e)',275,420,13);label('(f)',493,420,13);
label('<i>T</i> (MK)',135,33,13.5);label('<i>T</i> (MK)',135,420,13.5);
label('<i>t</i>=179 (min)',348.3,37.3,13.6);label('<i>t</i>=179 (min)',348.3,425,13.6);
label('<i>s</i> (Mm)',126,362.5,11.7);label('<i>s</i> (Mm)',126,750.5,11.7);
label('<i>s</i> (Mm)',348.3,361.5,11.7);label('<i>s</i> (Mm)',348.3,749,11.7);
label('<i>t</i> (min)',567,361.5,11.7);label('<i>t</i> (min)',567,749,11.7);
label('<i>t</i> (min)',10,205.5,11.5,true);label('<i>t</i> (min)',10,593,11.5,true);
label(nLabel,238,194.5,11.6,true);label(nLabel,452,193.5,11.6,true);
label(nLabel,238,581,11.6,true);label(nLabel,452,581.5,11.6,true);
</script>
</body></html>
